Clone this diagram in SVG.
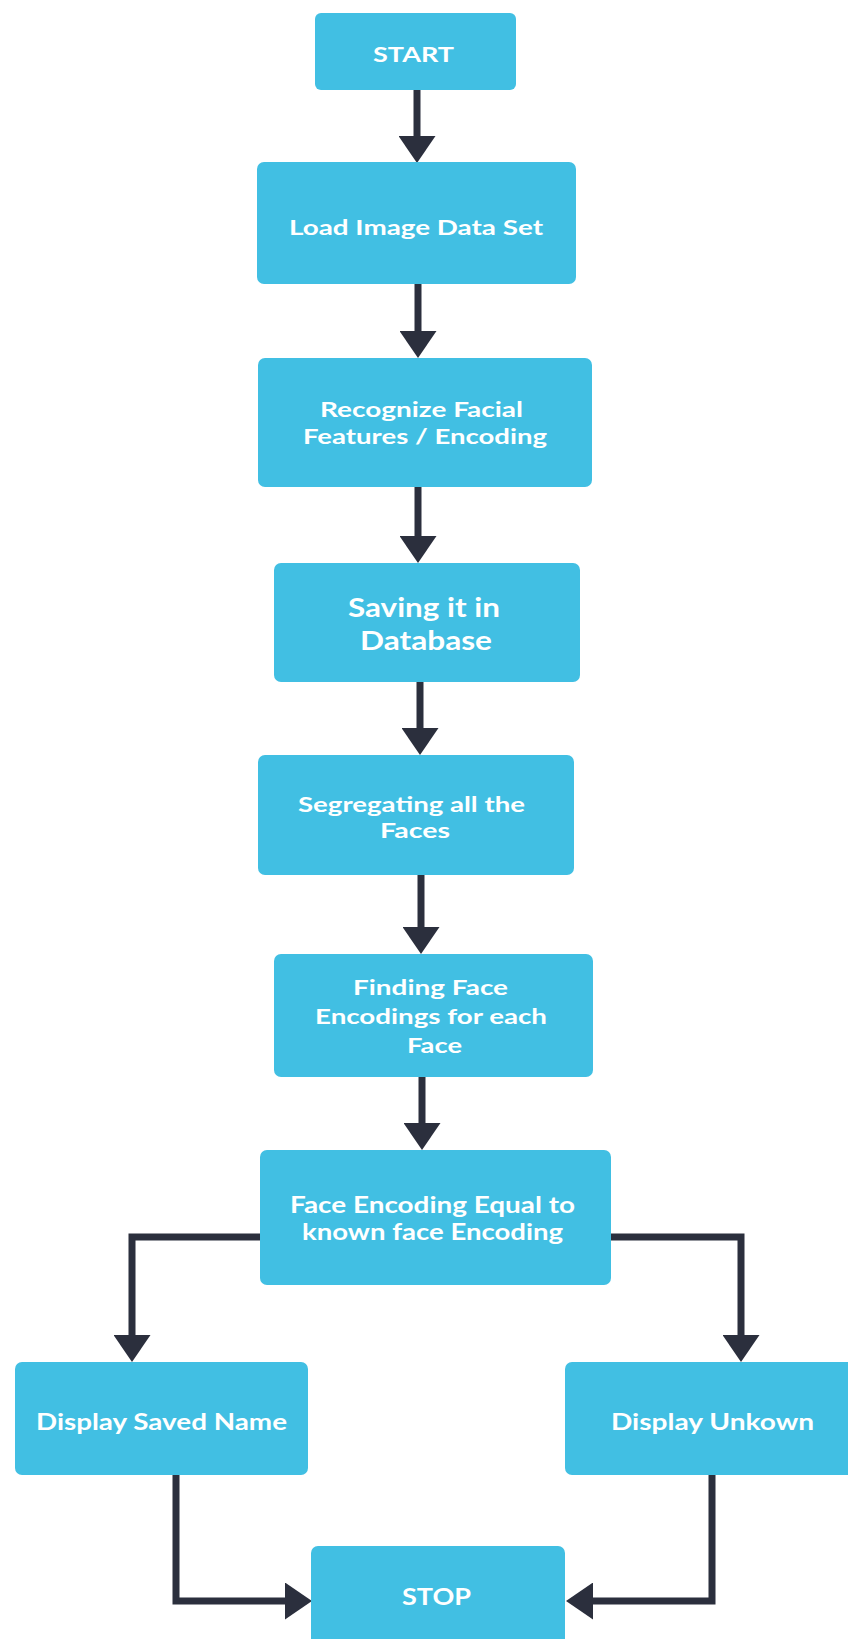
<svg xmlns="http://www.w3.org/2000/svg" width="848" height="1639" viewBox="0 0 848 1639">
<defs>
<style>
.box{fill:#41BFE3;}
.t{font-family:Lato,"Open Sans","Liberation Sans",sans-serif;font-weight:bold;fill:#FFFFFF;}
.c{fill:none;stroke:#2B2F3D;stroke-width:7;}
</style>
<marker id="ah" markerUnits="userSpaceOnUse" markerWidth="27" markerHeight="37" viewBox="0 0 27 37" refX="1" refY="18.5" orient="auto">
<path d="M0,0 L27,18.5 L0,37 Z" fill="#2B2F3D"/>
</marker>
</defs>
<rect width="848" height="1639" fill="#FFFFFF"/>
<g id="connectors">
<path class="c" d="M417,90 V137" marker-end="url(#ah)"/>
<path class="c" d="M418,284 V332" marker-end="url(#ah)"/>
<path class="c" d="M418,487 V537" marker-end="url(#ah)"/>
<path class="c" d="M420,682 V729" marker-end="url(#ah)"/>
<path class="c" d="M421,875 V928" marker-end="url(#ah)"/>
<path class="c" d="M422,1077 V1124" marker-end="url(#ah)"/>
<path class="c" d="M262,1237 H132 V1336" marker-end="url(#ah)"/>
<path class="c" d="M610,1237 H741 V1336" marker-end="url(#ah)"/>
<path class="c" d="M176,1475 V1601 H286" marker-end="url(#ah)"/>
<path class="c" d="M712,1475 V1601 H592" marker-end="url(#ah)"/>
</g>
<g id="start">
<rect class="box" x="315" y="13" width="201" height="77" rx="6"/>
<text class="t" x="373" y="62" font-size="21" textLength="81" lengthAdjust="spacingAndGlyphs">START</text>
</g>
<g id="load">
<rect class="box" x="257" y="162" width="319" height="122" rx="7"/>
<text class="t" x="289" y="235" font-size="21" textLength="254" lengthAdjust="spacingAndGlyphs">Load Image Data Set</text>
</g>
<g id="recognize">
<rect class="box" x="258" y="358" width="334" height="129" rx="7"/>
<text class="t" x="320" y="417" font-size="21" textLength="203" lengthAdjust="spacingAndGlyphs">Recognize Facial</text>
<text class="t" x="303" y="444" font-size="21" textLength="244" lengthAdjust="spacingAndGlyphs">Features / Encoding</text>
</g>
<g id="saving">
<rect class="box" x="274" y="563" width="306" height="119" rx="7"/>
<text class="t" x="348" y="617" font-size="26" textLength="152" lengthAdjust="spacingAndGlyphs">Saving it in</text>
<text class="t" x="360" y="650" font-size="26" textLength="132" lengthAdjust="spacingAndGlyphs">Database</text>
</g>
<g id="segregating">
<rect class="box" x="258" y="755" width="316" height="120" rx="7"/>
<text class="t" x="298" y="812" font-size="21" textLength="227" lengthAdjust="spacingAndGlyphs">Segregating all the</text>
<text class="t" x="380" y="838" font-size="21" textLength="70" lengthAdjust="spacingAndGlyphs">Faces</text>
</g>
<g id="finding">
<rect class="box" x="274" y="954" width="319" height="123" rx="7"/>
<text class="t" x="353" y="995" font-size="21" textLength="155" lengthAdjust="spacingAndGlyphs">Finding Face</text>
<text class="t" x="315" y="1024" font-size="21" textLength="232" lengthAdjust="spacingAndGlyphs">Encodings for each</text>
<text class="t" x="407" y="1053" font-size="21" textLength="55" lengthAdjust="spacingAndGlyphs">Face</text>
</g>
<g id="decision">
<rect class="box" x="260" y="1150" width="351" height="135" rx="7"/>
<text class="t" x="290" y="1213" font-size="22" textLength="285" lengthAdjust="spacingAndGlyphs">Face Encoding Equal to</text>
<text class="t" x="302" y="1240" font-size="22" textLength="261" lengthAdjust="spacingAndGlyphs">known face Encoding</text>
</g>
<g id="display-saved">
<rect class="box" x="15" y="1362" width="293" height="113" rx="7"/>
<text class="t" x="36" y="1430" font-size="23" textLength="251" lengthAdjust="spacingAndGlyphs">Display Saved Name</text>
</g>
<g id="display-unknown">
<rect class="box" x="565" y="1362" width="295" height="113" rx="7"/>
<text class="t" x="611" y="1430" font-size="23" textLength="203" lengthAdjust="spacingAndGlyphs">Display Unkown</text>
</g>
<g id="stop">
<rect class="box" x="311" y="1546" width="254" height="100" rx="7"/>
<text class="t" x="402" y="1605" font-size="23" textLength="69" lengthAdjust="spacingAndGlyphs">STOP</text>
</g>
</svg>
